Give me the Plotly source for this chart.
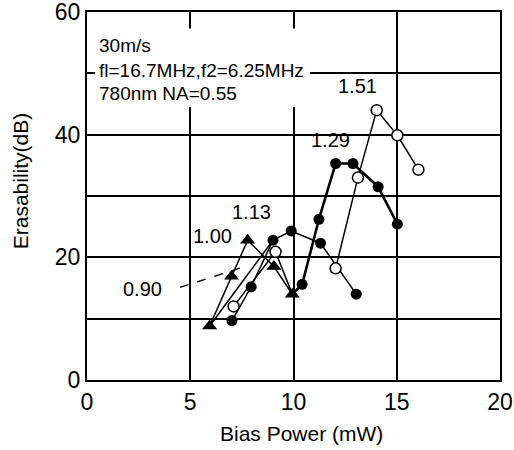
import plotly.graph_objects as go

# ---- data ----
r100_x = [5.94, 7.0, 7.78, 9.05, 9.94]
r100_y = [8.8, 16.9, 22.8, 18.5, 14.0]

r090_x = [5.94, 9.01]
r090_y = [8.8, 22.8]

low_open_x = [7.1, 9.13, 9.94]
low_open_y = [12.0, 20.9, 14.0]

r113_x = [7.02, 7.95, 9.01, 9.89, 11.31, 13.04]
r113_y = [9.7, 15.2, 22.8, 24.3, 22.3, 14.0]

r129_x = [9.94, 10.42, 11.23, 12.04, 12.88, 14.1, 15.03]
r129_y = [14.0, 15.6, 26.2, 35.3, 35.3, 31.5, 25.4]

r151_x = [12.04, 13.12, 14.03, 15.03, 16.05]
r151_y = [18.2, 33.0, 44.0, 39.9, 34.3]

ratio_labels = ["0.90", "1.00", "1.13", "1.29", "1.51"]
info_lines = ["30m/s", "fl=16.7MHz,f2=6.25MHz", "780nm NA=0.55"]

x_ticks = [0, 5, 10, 15, 20]
y_ticks = [0, 20, 40, 60]

FONT = "Liberation Sans, Arial, sans-serif"
BLK = "black"

fig = go.Figure()

def line(x, y, w=1.5):
    fig.add_trace(go.Scatter(x=x, y=y, mode="lines",
                             line=dict(color=BLK, width=w), showlegend=False,
                             hoverinfo="skip"))

def marks(x, y, kind):
    if kind == "filled":
        m = dict(symbol="circle", size=11, color=BLK, line=dict(color=BLK, width=0))
    elif kind == "open":
        m = dict(symbol="circle", size=11, color="white", line=dict(color=BLK, width=1.5))
    else:
        m = dict(symbol="triangle-up", size=13, color=BLK, line=dict(color=BLK, width=0))
    fig.add_trace(go.Scatter(x=x, y=y, mode="markers", marker=m,
                             showlegend=False, hoverinfo="skip"))

# lines
line(r090_x, r090_y)
line(low_open_x, low_open_y)
line(r100_x, r100_y)
line(r113_x, r113_y)
line(r129_x, r129_y, w=2.6)
line(r151_x, r151_y)

# markers
marks(low_open_x[:-1], low_open_y[:-1], "open")
marks(r113_x, r113_y, "filled")
marks(r129_x[1:], r129_y[1:], "filled")
marks(r151_x, r151_y, "open")
marks(r100_x, r100_y, "tri")

# dashed leader for 0.90
fig.add_shape(type="line", x0=4.5, y0=15.1, x1=7.75, y1=18.6,
              line=dict(color=BLK, width=1.3, dash="dash"), layer="above")

# white box behind info text
fig.add_shape(type="rect", x0=0.39, x1=10.8, y0=44.5, y1=57.3,
              fillcolor="white", line=dict(width=0), layer="above")

label_pos = [(2.71, 14.8), (6.1, 23.5), (7.99, 27.4), (11.77, 39.1), (13.12, 48.0)]
for txt, (lx, ly) in zip(ratio_labels, label_pos):
    fig.add_annotation(x=lx, y=ly, text=txt, showarrow=False,
                       font=dict(family=FONT, size=20, color=BLK),
                       xanchor="center", yanchor="middle")

info_y = [54.6, 50.5, 46.7]
for txt, iy in zip(info_lines, info_y):
    fig.add_annotation(x=0.48, y=iy, text=txt, showarrow=False,
                       font=dict(family=FONT, size=19, color=BLK),
                       xanchor="left", yanchor="middle")

# axis titles
fig.add_annotation(xref="paper", yref="paper", x=0, y=0.54, xshift=-67,
                   text="Erasability(dB)", textangle=-90, showarrow=False,
                   font=dict(family=FONT, size=21, color=BLK),
                   xanchor="center", yanchor="middle")
fig.add_annotation(xref="paper", yref="paper", x=0.52, y=0, yshift=-53,
                   text="Bias Power (mW)", showarrow=False,
                   font=dict(family=FONT, size=21, color=BLK),
                   xanchor="center", yanchor="middle")

axis_common = dict(showline=True, linecolor=BLK, linewidth=2, mirror=True,
                   showgrid=True, gridcolor=BLK, gridwidth=1.5,
                   zeroline=False, ticks="", automargin=False,
                   ticklabeloverflow="allow",
                   tickfont=dict(family=FONT, size=23, color=BLK))

fig.update_xaxes(range=[0, 20], tickvals=x_ticks, **axis_common)
fig.update_yaxes(range=[0, 60], tickvals=y_ticks,
                 minor=dict(showgrid=True, gridcolor=BLK, gridwidth=1.5, dtick=10),
                 **axis_common)

fig.update_layout(width=514, height=450,
                  margin=dict(l=87, r=14, t=12, b=70),
                  paper_bgcolor="white", plot_bgcolor="white",
                  showlegend=False)

fig.write_html("out.html", config={"displayModeBar": False},
               post_script="document.body.style.margin='0';document.body.style.overflow='hidden';")
